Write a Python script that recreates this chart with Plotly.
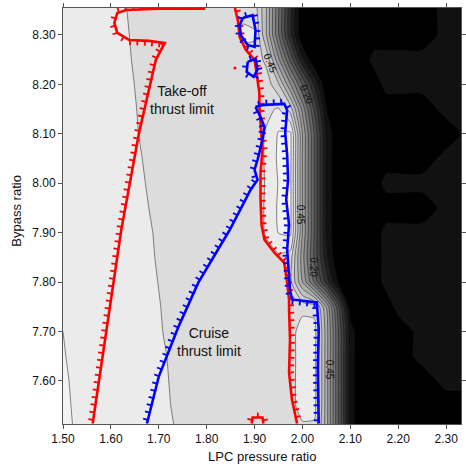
import numpy as np
import plotly.graph_objects as go

# ---------------- data ----------------
lpc = [1.50, 1.55, 1.60, 1.65, 1.70, 1.75, 1.80, 1.85, 1.875, 1.90, 1.925, 1.95, 1.975,
       2.00, 2.025, 2.05, 2.075, 2.10, 2.125, 2.15, 2.175, 2.20, 2.25, 2.30, 2.35]
bpr = [7.50, 7.55, 7.60, 7.65, 7.70, 7.75, 7.80, 7.85, 7.90, 7.95, 8.00, 8.05, 8.10,
       8.15, 8.20, 8.25, 8.30, 8.35, 8.40]

r750 = [0.655,0.643,0.631,0.620,0.608,0.596,0.585,0.577,0.575,0.575,0.576,0.578,0.580,0.585,0.585,0.424,0.199,-0.026,-0.1,-0.1,-0.1,-0.1,-0.1,-0.1,-0.1]
r755 = [0.654,0.642,0.630,0.618,0.606,0.594,0.583,0.576,0.575,0.575,0.576,0.578,0.580,0.625,0.620,0.424,0.199,-0.026,-0.1,-0.1,-0.1,-0.1,-0.1,-0.1,-0.1]
r760 = [0.653,0.641,0.629,0.617,0.605,0.593,0.582,0.576,0.575,0.575,0.576,0.578,0.580,0.628,0.622,0.424,0.199,-0.026,-0.1,-0.1,-0.1,-0.1,-0.1,-0.02,-0.02]
r765 = [0.6515,0.639,0.627,0.616,0.604,0.592,0.580,0.575,0.575,0.575,0.576,0.578,0.580,0.626,0.620,0.424,0.199,-0.026,-0.1,-0.1,-0.1,-0.1,-0.02,-0.02,-0.02]
r770 = [0.650,0.638,0.626,0.614,0.602,0.590,0.578,0.575,0.575,0.575,0.576,0.578,0.580,0.624,0.622,0.424,0.199,-0.026,-0.1,-0.1,-0.1,-0.1,-0.02,-0.02,-0.02]
r775 = [0.648,0.636,0.624,0.613,0.601,0.589,0.578,0.575,0.575,0.575,0.576,0.578,0.580,0.585,0.580,0.398,0.160,-0.080,-0.1,-0.1,-0.1,-0.02,-0.02,-0.02,-0.02]
r780 = [0.647,0.635,0.623,0.611,0.5995,0.588,0.577,0.575,0.575,0.575,0.576,0.578,0.560,0.400,0.240,0.080,-0.060,-0.1,-0.1,-0.1,-0.02,-0.02,-0.02,-0.02,-0.02]
r785 = [0.646,0.634,0.622,0.610,0.598,0.586,0.576,0.575,0.575,0.578,0.585,0.590,0.575,0.370,0.190,0.010,-0.1,-0.1,-0.1,-0.1,-0.02,-0.02,-0.02,-0.02,-0.02]
r790 = [0.645,0.633,0.621,0.609,0.597,0.585,0.576,0.575,0.575,0.580,0.605,0.652,0.660,0.397,0.195,-0.010,-0.1,-0.1,-0.1,-0.1,-0.02,-0.02,-0.02,-0.02,-0.02]
r795 = [0.644,0.632,0.619,0.607,0.595,0.583,0.576,0.575,0.575,0.580,0.606,0.658,0.662,0.397,0.195,-0.010,-0.1,-0.1,-0.1,-0.1,-0.1,-0.1,-0.1,-0.02,-0.02]
r800 = [0.643,0.6305,0.618,0.6055,0.593,0.581,0.576,0.575,0.575,0.580,0.604,0.653,0.660,0.397,0.195,-0.010,-0.1,-0.1,-0.1,-0.1,-0.02,-0.02,-0.02,-0.02,-0.02]
r805 = [0.642,0.629,0.617,0.604,0.591,0.580,0.576,0.575,0.575,0.580,0.606,0.660,0.662,0.397,0.195,-0.010,-0.1,-0.1,-0.1,-0.1,-0.1,-0.1,-0.1,-0.02,-0.02]
r810 = [0.641,0.628,0.615,0.602,0.589,0.579,0.576,0.575,0.575,0.580,0.605,0.655,0.660,0.397,0.195,-0.010,-0.1,-0.1,-0.1,-0.1,-0.1,-0.1,-0.1,-0.1,-0.02]
r815 = [0.640,0.627,0.614,0.601,0.588,0.578,0.576,0.575,0.575,0.578,0.590,0.605,0.527,0.334,0.142,-0.050,-0.1,-0.1,-0.1,-0.1,-0.1,-0.1,-0.1,-0.02,-0.02]
r820 = [0.639,0.626,0.613,0.5997,0.5866,0.578,0.576,0.575,0.576,0.578,0.578,0.507,0.352,0.197,0.042,-0.1,-0.1,-0.1,-0.1,-0.1,-0.02,-0.02,-0.02,-0.02,-0.02]
r825 = [0.638,0.625,0.612,0.598,0.585,0.578,0.576,0.575,0.578,0.580,0.536,0.361,0.186,0.011,-0.1,-0.1,-0.1,-0.1,-0.1,-0.02,-0.02,-0.02,-0.02,-0.02,-0.02]
r830 = [0.637,0.624,0.610,0.597,0.584,0.578,0.576,0.578,0.612,0.606,0.449,0.254,0.059,-0.1,-0.1,-0.1,-0.1,-0.1,-0.1,-0.1,-0.1,-0.1,-0.1,-0.02,-0.02]
r835 = [0.636,0.623,0.609,0.5956,0.583,0.578,0.576,0.576,0.585,0.578,0.449,0.254,0.059,-0.1,-0.1,-0.1,-0.1,-0.1,-0.1,-0.1,-0.1,-0.1,-0.1,-0.02,-0.02]
r840 = [0.635,0.622,0.608,0.595,0.582,0.578,0.576,0.576,0.578,0.578,0.449,0.254,0.059,-0.1,-0.1,-0.1,-0.1,-0.1,-0.1,-0.1,-0.1,-0.1,-0.1,-0.02,-0.02]
z_rows = [r750, r755, r760, r765, r770, r775, r780, r785, r790, r795, r800,
          r805, r810, r815, r820, r825, r830, r835, r840]

# Take-off thrust limit (red)
takeoff_left_x = [1.562, 1.5907, 1.6217, 1.6588, 1.6938, 1.7124, 1.6794, 1.6382, 1.6134,
                  1.6072, 1.6134, 1.632, 1.70, 1.797]
takeoff_left_y = [7.514, 7.704, 7.906, 8.102, 8.2495, 8.2838, 8.2879, 8.2899, 8.304,
                  8.3242, 8.3444, 8.3505, 8.353, 8.353]
takeoff_right_x = [1.859, 1.865, 1.869, 1.8815, 1.900, 1.906, 1.910, 1.910, 1.9124, 1.9165,
                   1.9124, 1.9124, 1.9145, 1.9206, 1.941, 1.962, 1.968, 1.972, 1.972, 1.974,
                   1.972, 1.978, 1.9887]
takeoff_right_y = [8.3545, 8.330, 8.296, 8.270, 8.2495, 8.215, 8.183, 8.155, 8.114, 8.068,
                   8.021, 7.967, 7.916, 7.886, 7.860, 7.839, 7.799, 7.765, 7.744, 7.684,
                   7.617, 7.563, 7.514]
takeoff_bump_x = [1.894, 1.896, 1.9165, 1.9186]
takeoff_bump_y = [7.514, 7.526, 7.526, 7.514]
takeoff_dot_x = [1.859]
takeoff_dot_y = [8.233]

# Cruise thrust limit (blue)
cruise_diag_x = [1.6753, 1.70, 1.7412, 1.7825, 1.8237, 1.8485, 1.8918, 1.9062, 1.90, 1.9062,
                 1.9165, 1.9206, 1.9124, 1.902]
cruise_diag_y = [7.514, 7.609, 7.710, 7.799, 7.866, 7.906, 7.987, 8.007, 8.0273, 8.0475,
                 8.088, 8.114, 8.134, 8.1546]
cruise_top_x = [1.902, 1.9206, 1.9619, 1.968]
cruise_top_y = [8.1546, 8.1586, 8.1606, 8.1485]
cruise_right_x = [1.968, 1.964, 1.968, 1.970, 1.966, 1.972, 1.968,
                  1.974, 1.978, 2.030, 2.034, 2.032, 2.034]
cruise_right_y = [8.1485, 8.102, 8.0576, 8.007, 7.967, 7.916, 7.866,
                  7.785, 7.765, 7.759, 7.704, 7.623, 7.514]
cruise_loopA_x = [1.8753, 1.8959, 1.902, 1.900, 1.8856, 1.8712, 1.869, 1.8753]
cruise_loopA_y = [8.3343, 8.340, 8.310, 8.2758, 8.2798, 8.300, 8.320, 8.3343]
cruise_loopB_x = [1.8856, 1.902, 1.906, 1.898, 1.8835, 1.8856]
cruise_loopB_y = [8.2455, 8.2515, 8.2293, 8.2152, 8.2253, 8.2455]

x_ticks = [1.50, 1.60, 1.70, 1.80, 1.90, 2.00, 2.10, 2.20, 2.30]
y_ticks = [7.60, 7.70, 7.80, 7.90, 8.00, 8.10, 8.20, 8.30]

# ---------------- layout geometry ----------------
FIG_W, FIG_H = 466, 472
M_L, M_R, M_T, M_B = 63, 0, 8, 48
XR = [1.50, 2.331]
YR = [7.513, 8.3545]
SX = (FIG_W - M_L - M_R) / (XR[1] - XR[0])
SY = (FIG_H - M_T - M_B) / (YR[1] - YR[0])

FONT = "Arial, Liberation Sans, Helvetica, sans-serif"


def hatch(xs, ys, side=1, spacing=7.5, length=5.0):
    """Short one-sided ticks along a path (computed in pixel space)."""
    px = (np.asarray(xs, float) - XR[0]) * SX
    py = (np.asarray(ys, float) - YR[0]) * SY
    dx, dy = np.diff(px), np.diff(py)
    d = np.hypot(dx, dy)
    s = np.concatenate([[0.0], np.cumsum(d)])
    t = np.arange(spacing * 0.5, s[-1], spacing)
    i = np.clip(np.searchsorted(s, t, side="right") - 1, 0, len(d) - 1)
    ux, uy = dx[i] / d[i], dy[i] / d[i]
    bx, by = np.interp(t, s, px), np.interp(t, s, py)
    ex, ey = bx - uy * side * length, by + ux * side * length
    X, Y = [], []
    for a, b, c, e in zip(bx, by, ex, ey):
        X += [a / SX + XR[0], c / SX + XR[0], None]
        Y += [b / SY + YR[0], e / SY + YR[0], None]
    return X, Y


fig = go.Figure()

# colours of each filled band (below -0.05, then every 0.05 up to >0.65)
band_colors = ["#000000", "#111111", "#1e1e1e", "#303030", "#424242", "#545454",
               "#666666", "#787878", "#8a8a8a", "#9c9c9c", "#aeaeae", "#c0c0c0",
               "#cfcfcf", "#dcdcdc", "#ebebeb", "#f3f3f3"]
cscale = [[k / 15, c] for k, c in enumerate(band_colors)]

fig.add_trace(go.Contour(
    x=lpc, y=bpr, z=z_rows,
    autocontour=False,
    contours=dict(start=-0.05, end=0.651, size=0.05, coloring="fill", showlabels=False),
    colorscale=cscale, showscale=False,
    line=dict(color="rgba(20,20,20,0.85)", width=0.6, smoothing=0.5),
    hoverinfo="skip",
))

RED = "#ff0000"
BLUE = "#0000ff"


def limit_line(xs, ys, color, side=1, width=2.6):
    hx, hy = hatch(xs, ys, side)
    fig.add_trace(go.Scatter(x=hx, y=hy, mode="lines", cliponaxis=False,
                             line=dict(color=color, width=1.8), hoverinfo="skip",
                             showlegend=False))
    fig.add_trace(go.Scatter(x=xs, y=ys, mode="lines", cliponaxis=False,
                             line=dict(color=color, width=width), hoverinfo="skip",
                             showlegend=False))


limit_line(takeoff_left_x, takeoff_left_y, RED, side=1)
limit_line(takeoff_right_x, takeoff_right_y, RED, side=1)
limit_line(takeoff_bump_x, takeoff_bump_y, RED, side=1)
fig.add_trace(go.Scatter(x=takeoff_dot_x, y=takeoff_dot_y, mode="markers",
                         marker=dict(color=RED, size=3), hoverinfo="skip", showlegend=False))

limit_line(cruise_diag_x, cruise_diag_y, BLUE, side=1)
limit_line(cruise_top_x, cruise_top_y, BLUE, side=1)
limit_line(cruise_right_x, cruise_right_y, BLUE, side=-1)
limit_line(cruise_loopA_x, cruise_loopA_y, BLUE, side=1)
limit_line(cruise_loopB_x, cruise_loopB_y, BLUE, side=1)

annotations = [
    dict(x=1.7485, y=8.168, text="Take-off<br>thrust limit", showarrow=False,
         font=dict(size=14, color="#111", family=FONT)),
    dict(x=1.805, y=7.678, text="Cruise<br>thrust limit", showarrow=False,
         font=dict(size=14, color="#111", family=FONT)),
    dict(x=1.933, y=8.242, text="0.45", textangle=68, showarrow=False,
         font=dict(size=10, color="#111", family=FONT)),
    dict(x=2.009, y=8.180, text="0.20", textangle=68, showarrow=False,
         font=dict(size=10, color="#111", family=FONT)),
    dict(x=1.995, y=7.936, text="0.45", textangle=90, showarrow=False,
         font=dict(size=10, color="#111", family=FONT)),
    dict(x=2.024, y=7.830, text="0.20", textangle=90, showarrow=False,
         font=dict(size=10, color="#111", family=FONT)),
    dict(x=2.057, y=7.623, text="0.45", textangle=90, showarrow=False,
         font=dict(size=10, color="#111", family=FONT)),
    dict(x=0.501, y=-0.079, xref="paper", yref="paper", xanchor="center",
         yanchor="middle", text="LPC pressure ratio",
         showarrow=False, font=dict(size=13, color="#111", family=FONT)),
    dict(x=-0.119, y=0.512, xref="paper", yref="paper", xanchor="center",
         yanchor="middle", text="Bypass ratio",
         textangle=-90, showarrow=False, font=dict(size=13, color="#111", family=FONT)),
]

fig.update_layout(
    width=FIG_W, height=FIG_H,
    margin=dict(l=M_L, r=M_R, t=M_T, b=M_B),
    paper_bgcolor="white", plot_bgcolor="white",
    showlegend=False,
    annotations=annotations,
    font=dict(family=FONT, size=12, color="#111"),
    xaxis=dict(range=XR, tickvals=x_ticks, ticktext=[f"{v:.2f}" for v in x_ticks],
               ticks="outside", ticklen=4, tickcolor="#555", showline=True,
               linecolor="#555", linewidth=1, mirror="ticks", showgrid=False,
               zeroline=False, tickfont=dict(size=12, color="#111", family=FONT)),
    yaxis=dict(range=YR, tickvals=y_ticks, ticktext=[f"{v:.2f}" for v in y_ticks],
               ticks="outside", ticklen=4, tickcolor="#555", showline=True,
               linecolor="#555", linewidth=1, mirror="ticks", showgrid=False,
               zeroline=False, tickfont=dict(size=12, color="#111", family=FONT)),
)

fig.write_html("out.html")
